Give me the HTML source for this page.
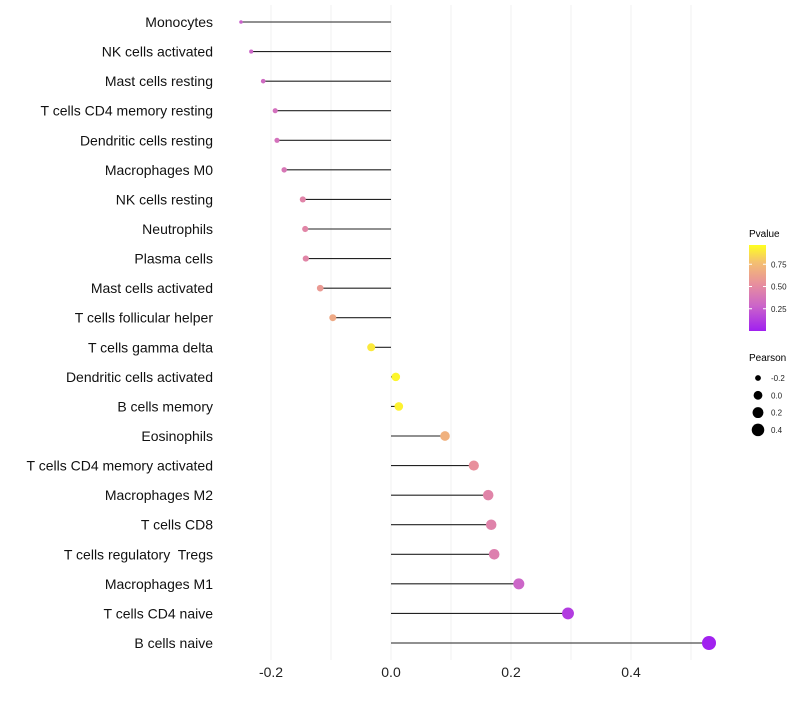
<!DOCTYPE html>
<html><head><meta charset="utf-8"><style>
body{margin:0;background:#fff;font-family:"Liberation Sans",sans-serif;}
svg text{font-family:"Liberation Sans",sans-serif;white-space:pre;}
</style></head><body>
<svg id="chart" width="800" height="700" xmlns="http://www.w3.org/2000/svg">
<defs>
<linearGradient id="pg" x1="0" y1="1" x2="0" y2="0">
<stop offset="0" stop-color="#a020f0"/>
<stop offset="0.3" stop-color="#cc66c8"/>
<stop offset="0.55" stop-color="#e8909c"/>
<stop offset="0.8" stop-color="#f4c070"/>
<stop offset="1" stop-color="#ffff20"/>
</linearGradient>
</defs>
<g id="grid"></g><g id="marks"></g><g id="labels"></g>
<g>
<text x="749" y="237" font-size="10">Pvalue</text>
<rect x="749" y="245" width="17" height="86" fill="url(#pg)"/>
<g id="cbticks"></g>
</g>
<g>
<text x="749" y="361" font-size="10">Pearson</text>
<g id="sizeleg"></g>
</g>
</svg>
<script>
const categories=["Monocytes","NK cells activated","Mast cells resting","T cells CD4 memory resting","Dendritic cells resting","Macrophages M0","NK cells resting","Neutrophils","Plasma cells","Mast cells activated","T cells follicular helper","T cells gamma delta","Dendritic cells activated","B cells memory","Eosinophils","T cells CD4 memory activated","Macrophages M2","T cells CD8","T cells regulatory  Tregs","Macrophages M1","T cells CD4 naive","B cells naive"];
const pearson=[-0.25,-0.233,-0.213,-0.193,-0.19,-0.178,-0.147,-0.143,-0.142,-0.118,-0.097,-0.033,0.008,0.013,0.09,0.138,0.162,0.167,0.172,0.213,0.295,0.53];
const pvalue=[0.28,0.3,0.33,0.36,0.37,0.4,0.48,0.49,0.49,0.6,0.68,0.93,0.97,0.96,0.72,0.55,0.48,0.47,0.45,0.3,0.12,0.01];
const xTicks=[-0.2,0,0.2,0.4];
const xTickLabels=["-0.2","0.0","0.2","0.4"];
const pTicks=[0.25,0.5,0.75];
const sizeLegend=[-0.2,0,0.2,0.4];
const NS="http://www.w3.org/2000/svg";
const X=v=>391+v*600;
const Y=i=>22+i*(621/21);
const R=v=>Math.sqrt(3.2+(v+0.25)/0.78*46);
const stops=[[0,[160,32,240]],[0.3,[204,102,200]],[0.55,[232,144,156]],[0.8,[244,192,112]],[1,[255,255,32]]];
function col(p){for(let k=1;k<stops.length;k++){if(p<=stops[k][0]){const a=stops[k-1],b=stops[k],t=(p-a[0])/(b[0]-a[0]);return 'rgb('+a[1].map((c,j)=>Math.round(c+(b[1][j]-c)*t)).join(',')+')';}}return 'rgb(255,255,32)';}
function mk(tag,at,par){const e=document.createElementNS(NS,tag);for(const k in at)e.setAttribute(k,at[k]);document.getElementById(par).appendChild(e);return e;}
for(let v=-0.2;v<=0.501;v+=0.1){const l=mk('line',{x1:X(v),x2:X(v),y1:5,y2:660,stroke:'#f2f2f2','stroke-width':1},'grid');

}
xTicks.forEach((v,i)=>{const t=mk('text',{x:X(v),y:677,'font-size':14,'text-anchor':'middle',fill:'#222'},'labels');t.textContent=xTickLabels[i];

});
categories.forEach((c,i)=>{const y=Y(i);
const t=mk('text',{x:213,y:y+5,'font-size':14,'text-anchor':'end',fill:'#111'},'labels');t.textContent=c;


const l=mk('line',{x1:X(0),x2:X(pearson[i]),y1:y,y2:y,stroke:'#222','stroke-width':1.1},'marks');


const d=mk('circle',{cx:X(pearson[i]),cy:y,r:R(pearson[i]),fill:col(pvalue[i])},'marks');

});
pTicks.forEach(p=>{const y=331-p*89;
mk('line',{x1:749,x2:752,y1:y,y2:y,stroke:'#fff'},'cbticks');mk('line',{x1:763,x2:766,y1:y,y2:y,stroke:'#fff'},'cbticks');
const t=mk('text',{x:771,y:y+3,'font-size':8,fill:'#222'},'cbticks');t.textContent=p.toFixed(2);

});
sizeLegend.forEach((v,i)=>{const y=378+i*17.3;
const c=mk('circle',{cx:758,cy:y,r:R(v)*0.85+0.8,fill:'#000'},'sizeleg');


const t=mk('text',{x:771,y:y+3,'font-size':8,fill:'#222'},'sizeleg');t.textContent=v.toFixed(1);

});
</script>
</body></html>
